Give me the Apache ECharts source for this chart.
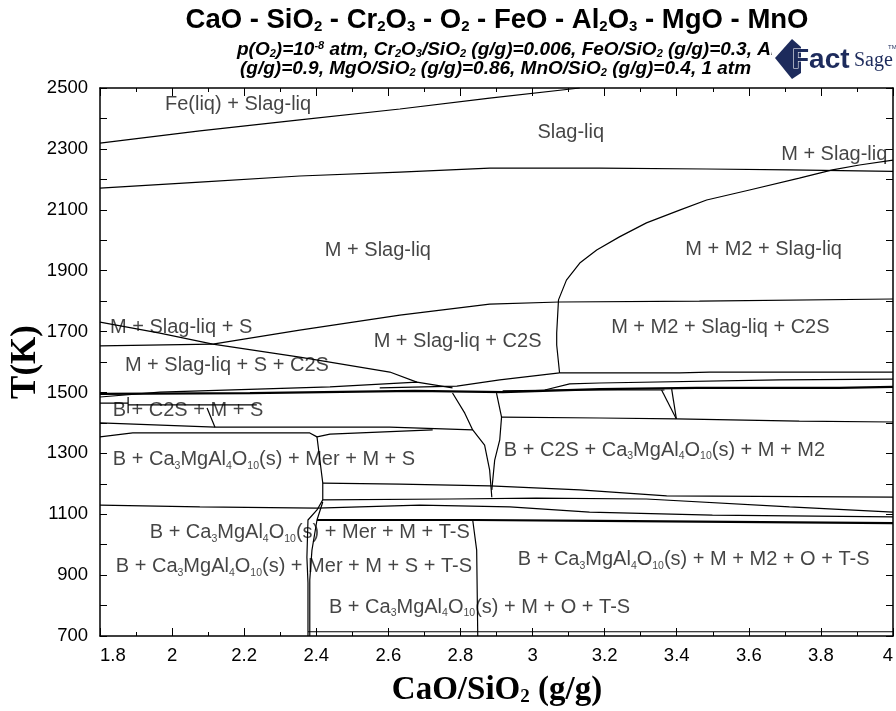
<!DOCTYPE html>
<html>
<head>
<meta charset="utf-8">
<script src="https://cdn.jsdelivr.net/npm/echarts@6/dist/echarts.min.js"></script>
<style>
  html, body { margin: 0; padding: 0; background: #fff; }
  #chart { width: 896px; height: 711px; }
</style>
</head>
<body>
<div id="chart"></div>
<script>
/** 相界线数据 [CaO/SiO2, T(K)] **/
var feLiqLine = [[1.8, 2319], [2.077, 2359], [2.354, 2395], [2.632, 2431], [2.881, 2467], [3.131, 2500]];
var liquidusLine = [[1.8, 2171], [2.077, 2191], [2.354, 2211], [2.632, 2224], [2.881, 2237], [3.186, 2237], [3.483, 2234], [3.713, 2231], [4.0, 2226]];
var m2Curve = [[3.075, 1564], [3.067, 1656], [3.067, 1695], [3.072, 1804], [3.094, 1869], [3.131, 1925], [3.178, 1968], [3.241, 2011], [3.316, 2057], [3.408, 2099], [3.483, 2132], [3.602, 2165], [3.740, 2204], [3.832, 2231], [3.907, 2247], [4.0, 2263]];
var sLineUpper = [[1.8, 1731], [1.966, 1695], [2.113, 1659], [2.354, 1616], [2.604, 1567], [2.679, 1534]];
var c2sLine = [[2.113, 1659], [2.354, 1705], [2.632, 1754], [2.881, 1790], [3.075, 1797], [3.463, 1800], [4.0, 1807]];
var sLineLower = [[1.8, 1653], [2.113, 1659]];
var band1 = [[1.8, 1495], [2.216, 1498], [2.673, 1505], [2.917, 1501], [3.186, 1511], [3.455, 1515], [3.851, 1515], [4.0, 1518]];
var band2 = [[1.8, 1485], [1.966, 1501], [2.438, 1518], [2.679, 1534], [2.778, 1515]];
var band3 = [[2.576, 1515], [2.790, 1521], [2.909, 1541], [3.075, 1564]];
var band4 = [[3.075, 1564], [3.408, 1564], [3.491, 1567], [4.0, 1567]];
var band5 = [[3.034, 1508], [3.103, 1528], [3.186, 1531], [3.685, 1541], [4.0, 1544]];
var band6 = [[2.917, 1505], [3.075, 1508], [3.366, 1508]];
var wedgeDiag = [[3.358, 1508], [3.399, 1413]];
var wedgeVert = [[3.386, 1511], [3.399, 1413]];
var line1415 = [[2.914, 1419], [3.186, 1416], [3.399, 1413], [3.740, 1406], [4.0, 1403]];
var vLeft = [[2.778, 1498], [2.812, 1432], [2.834, 1377], [2.867, 1327], [2.881, 1245], [2.887, 1156]];
var vRight = [[2.900, 1498], [2.914, 1419], [2.909, 1344], [2.895, 1278], [2.887, 1180]];
var line1390 = [[1.8, 1400], [2.119, 1386], [2.604, 1386], [2.834, 1377]];
var line1365 = [[1.8, 1354], [1.891, 1367], [2.382, 1367], [2.402, 1354], [2.438, 1363], [2.723, 1377]];
var boxVert = [[1.878, 1485], [1.878, 1432]];
var boxTop = [[1.8, 1465], [1.878, 1465]];
var boxMid = [[1.878, 1459], [2.235, 1459]];
var boxDiag = [[2.097, 1449], [2.119, 1386]];
var merTop = [[2.402, 1354], [2.410, 1278], [2.418, 1203], [2.418, 1147]];
var merLeft = [[2.418, 1147], [2.402, 1114], [2.377, 1081], [2.374, 959], [2.377, 874], [2.377, 700]];
var merRight = [[2.418, 1140], [2.402, 1081], [2.388, 982], [2.382, 884], [2.382, 700]];
var tsVert = [[2.834, 1081], [2.845, 982], [2.848, 700]];
var line1200 = [[2.418, 1202], [2.632, 1199], [2.881, 1193], [3.131, 1180], [3.372, 1160], [4.0, 1156]];
var line1150 = [[2.418, 1147], [2.770, 1150], [3.011, 1153], [3.316, 1150], [3.713, 1124], [4.0, 1107]];
var line1125 = [[1.8, 1130], [2.077, 1124], [2.402, 1120], [2.687, 1130], [2.937, 1124], [3.158, 1107], [3.499, 1097], [4.0, 1091]];
var line1080 = [[2.402, 1081], [2.839, 1081], [3.186, 1078], [4.0, 1071]];
var line715 = [[2.377, 714], [4.0, 714]];

var thickLines = [band1, line1080];

/** 相区标注 **/
var labelText = [
  'Fe(liq) + Slag-liq',
  'Slag-liq',
  'M + Slag-liq',
  'M + Slag-liq',
  'M + M2 + Slag-liq',
  'M + Slag-liq + S',
  'M + Slag-liq + C2S',
  'M + M2 + Slag-liq + C2S',
  'M + Slag-liq + S + C2S',
  'B + C2S + M + S',
  'B + Ca{s|3}MgAl{s|4}O{s|10}(s) + Mer + M + S',
  'B + C2S + Ca{s|3}MgAl{s|4}O{s|10}(s) + M + M2',
  'B + Ca{s|3}MgAl{s|4}O{s|10}(s) + Mer + M + T-S',
  'B + Ca{s|3}MgAl{s|4}O{s|10}(s) + Mer + M + S + T-S',
  'B + Ca{s|3}MgAl{s|4}O{s|10}(s) + M + M2 + O + T-S',
  'B + Ca{s|3}MgAl{s|4}O{s|10}(s) + M + O + T-S'
];
var labelX = [2.183, 3.106, 3.837, 2.571, 3.641, 2.025, 2.792, 3.521, 2.152, 2.044, 2.255, 3.366, 2.382, 2.338, 3.447, 2.853];
var labelT = [2445, 2355, 2280, 1965, 1968, 1715, 1666, 1715, 1590, 1442, 1281, 1311, 1041, 927, 950, 795];

/** 坐标轴刻度 **/
var xLabels = [1.8, 2, 2.2, 2.4, 2.6, 2.8, 3, 3.2, 3.4, 3.6, 3.8, 4];
var yLabels = [700, 900, 1100, 1300, 1500, 1700, 1900, 2100, 2300, 2500];

var allLines = [feLiqLine, liquidusLine, m2Curve, sLineUpper, c2sLine, sLineLower, band1, band2, band3, band4, band5, band6,
  wedgeDiag, wedgeVert, line1415, vLeft, vRight, line1390, line1365, boxVert, boxTop, boxMid, boxDiag,
  merTop, merLeft, merRight, tsVert, line1200, line1150, line1125, line1080, line715];

var SANS = '"Liberation Sans", Arial, sans-serif';
var SERIF = '"Liberation Serif", "Times New Roman", serif';
var SUBFONT = 'italic bold 11px "Liberation Sans Narrow", ' + SANS;

var series = allLines.map(function (pts) {
  return {
    type: 'line',
    data: pts,
    symbol: 'none',
    silent: true,
    clip: true,
    animation: false,
    lineStyle: { color: '#000', width: thickLines.indexOf(pts) >= 0 ? 2.2 : 1.2 }
  };
});

series.push({
  type: 'scatter',
  symbolSize: 0,
  silent: true,
  animation: false,
  data: labelText.map(function (t, i) { return [labelX[i], labelT[i], t]; }),
  label: {
    show: true,
    position: 'inside',
    formatter: function (p) { return p.data[2]; },
    fontFamily: SANS,
    fontSize: 20,
    color: '#151515',
    lineHeight: 24,
    rich: {
      s: { fontFamily: SANS, fontSize: 10.5, color: '#151515', verticalAlign: 'bottom', lineHeight: 11 }
    }
  }
});

var chart = echarts.init(document.getElementById('chart'));
var axisLine = { show: true, onZero: false, lineStyle: { color: '#000', width: 1.5 } };

chart.setOption({
  animation: false,
  grid: { left: 100, right: 3, top: 88, bottom: 75, containLabel: false },
  xAxis: [{
    type: 'value', min: 1.8, max: 4, interval: 0.2,
    axisLine: axisLine,
    axisTick: { inside: true, length: 8, lineStyle: { color: '#000' } },
    minorTick: { show: true, splitNumber: 2, length: 4, lineStyle: { color: '#000' } },
    splitLine: { show: false },
    axisLabel: {
      margin: 10, fontFamily: SANS, fontSize: 18.5, color: '#000',
      alignMinLabel: 'left', alignMaxLabel: 'right',
      formatter: function (v) {
        return xLabels.some(function (l) { return Math.abs(l - v) < 1e-6; }) ? String(Math.round(v * 10) / 10) : '';
      }
    }
  }, {
    type: 'value', min: 1.8, max: 4, interval: 0.2, position: 'top',
    axisLine: axisLine,
    axisTick: { inside: true, length: 8, lineStyle: { color: '#000' } },
    minorTick: { show: true, splitNumber: 2, length: 4, lineStyle: { color: '#000' } },
    splitLine: { show: false },
    axisLabel: { show: false }
  }],
  yAxis: [{
    type: 'value', min: 700, max: 2500, interval: 100,
    axisLine: axisLine,
    axisTick: { inside: true, length: 7, lineStyle: { color: '#000' } },
    splitLine: { show: false },
    axisLabel: {
      margin: 12, fontFamily: SANS, fontSize: 18.5, color: '#000',
      formatter: function (v) { return yLabels.indexOf(Math.round(v)) >= 0 ? String(Math.round(v)) : ''; }
    }
  }, {
    type: 'value', min: 700, max: 2500, interval: 100, position: 'right',
    axisLine: axisLine,
    axisTick: { inside: true, length: 7, lineStyle: { color: '#000' } },
    splitLine: { show: false },
    axisLabel: { show: false }
  }],
  graphic: [
    {
      type: 'text', x: 497, y: 20, silent: true,
      style: {
        text: 'CaO - SiO{b|2} - Cr{b|2}O{b|3} - O{b|2} - FeO - Al{b|2}O{b|3} - MgO - MnO',
        font: 'bold 27.5px ' + SANS, fill: '#000', align: 'center', verticalAlign: 'middle',
        rich: { b: { font: 'bold 15px ' + SANS, fill: '#000', verticalAlign: 'bottom', lineHeight: 14 } }
      }
    },
    {
      type: 'text', x: 237, y: 50, silent: true,
      style: {
        text: 'p(O{t|2})=10{u|-8} atm, Cr{t|2}O{t|3}/SiO{t|2} (g/g)=0.006, FeO/SiO{t|2} (g/g)=0.3, Al{t|2}O{t|3}/SiO{t|2}',
        font: 'italic bold 19px "Liberation Sans Narrow", ' + SANS, fill: '#000', align: 'left', verticalAlign: 'middle',
        rich: {
          t: { font: SUBFONT, fill: '#000', verticalAlign: 'bottom', lineHeight: 11 },
          u: { font: SUBFONT, fill: '#000', verticalAlign: 'top', lineHeight: 11 }
        }
      }
    },
    {
      type: 'text', x: 240, y: 69, silent: true,
      style: {
        text: '(g/g)=0.9, MgO/SiO{t|2} (g/g)=0.86, MnO/SiO{t|2} (g/g)=0.4, 1 atm',
        font: 'italic bold 19px "Liberation Sans Narrow", ' + SANS, fill: '#000', align: 'left', verticalAlign: 'middle',
        rich: {
          t: { font: SUBFONT, fill: '#000', verticalAlign: 'bottom', lineHeight: 11 }
        }
      }
    },
    // FactSage 标志
    { type: 'rect', shape: { x: 772, y: 34, width: 124, height: 48 }, style: { fill: '#fff' }, silent: true },
    { type: 'polygon', shape: { points: [[775, 58], [792, 39], [801, 47], [801, 73], [792, 79]] }, style: { fill: '#1d2b5c' }, silent: true },
    {
      type: 'text', x: 792, y: 60, silent: true,
      style: { text: 'Fact', font: 'bold 28px ' + SANS, fill: '#1d2b5c', stroke: '#fff', lineWidth: 1, align: 'left', verticalAlign: 'middle' }
    },
    {
      type: 'text', x: 854, y: 61, silent: true,
      style: { text: 'Sage', font: '20px ' + SERIF, fill: '#1d2b5c', align: 'left', verticalAlign: 'middle' }
    },
    {
      type: 'text', x: 888, y: 47, silent: true,
      style: { text: 'TM', font: '6px ' + SANS, fill: '#1d2b5c', align: 'left', verticalAlign: 'middle' }
    },
    // 坐标轴名称
    {
      type: 'text', x: 26, y: 362, rotation: Math.PI / 2, silent: true,
      style: { text: 'T(K)', font: 'bold 35px ' + SERIF, fill: '#000', align: 'center', verticalAlign: 'middle' }
    },
    {
      type: 'text', x: 497, y: 690, silent: true,
      style: {
        text: 'CaO/SiO{b|2} (g/g)',
        font: 'bold 33px ' + SERIF, fill: '#000', align: 'center', verticalAlign: 'middle',
        rich: { b: { font: 'bold 19px ' + SERIF, fill: '#000', verticalAlign: 'bottom', lineHeight: 19 } }
      }
    }
  ],
  series: series
});
</script>
</body>
</html>
